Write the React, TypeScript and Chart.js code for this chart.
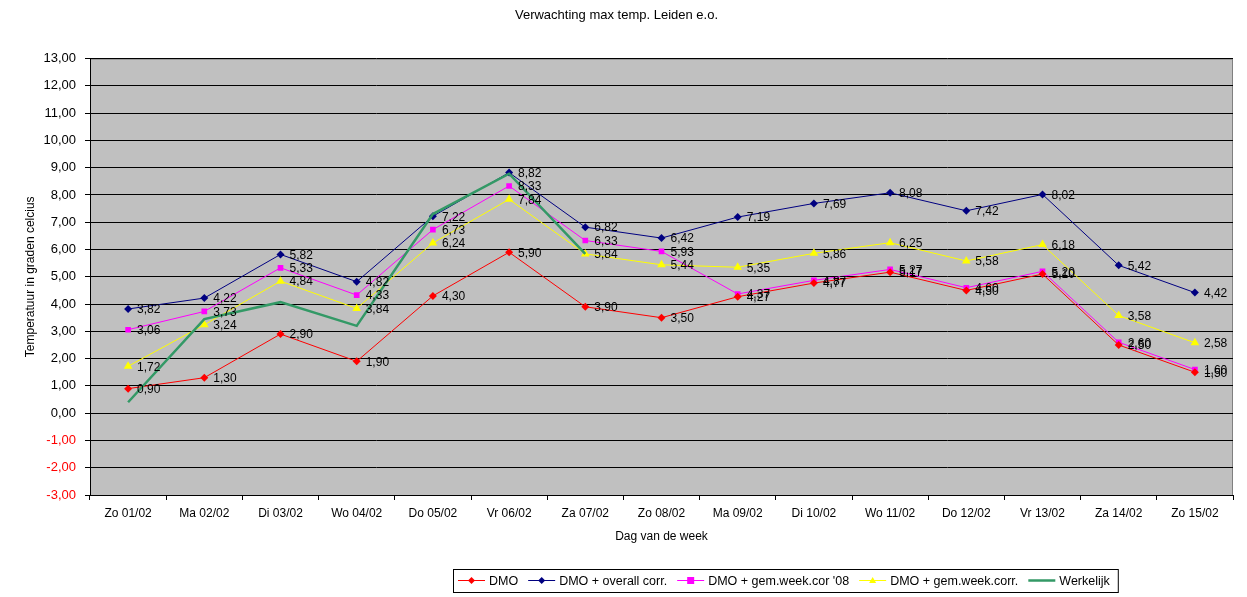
import { useEffect, useRef } from "react";
import { Chart, registerables, Plugin } from "chart.js";

Chart.register(...registerables);

const FONT = "'Liberation Sans', Arial, sans-serif";

const days = [
  "Zo 01/02", "Ma 02/02", "Di 03/02", "Wo 04/02", "Do 05/02",
  "Vr 06/02", "Za 07/02", "Zo 08/02", "Ma 09/02", "Di 10/02",
  "Wo 11/02", "Do 12/02", "Vr 13/02", "Za 14/02", "Zo 15/02",
];

const dmo = [0.9, 1.3, 2.9, 1.9, 4.3, 5.9, 3.9, 3.5, 4.27, 4.77, 5.17, 4.5, 5.1, 2.5, 1.5];
const dmoOverall = [3.82, 4.22, 5.82, 4.82, 7.22, 8.82, 6.82, 6.42, 7.19, 7.69, 8.08, 7.42, 8.02, 5.42, 4.42];
const dmoWeek08 = [3.06, 3.73, 5.33, 4.33, 6.73, 8.33, 6.33, 5.93, 4.37, 4.87, 5.27, 4.6, 5.2, 2.6, 1.6];
const dmoWeek = [1.72, 3.24, 4.84, 3.84, 6.24, 7.84, 5.84, 5.44, 5.35, 5.86, 6.25, 5.58, 6.18, 3.58, 2.58];
const werkelijk = [0.4, 3.45, 4.07, 3.2, 7.3, 8.78, 5.84, null, null, null, null, null, null, null, null];

const yMin = -3;
const yMax = 13;

const fmt = (v: number) => v.toFixed(2).replace(".", ",");

// grey plot area with a light border top/right
const plotBackground: Plugin = {
  id: "plotBackground",
  beforeDraw(chart) {
    const { ctx, chartArea: a } = chart;
    ctx.save();
    ctx.fillStyle = "#fff";
    ctx.fillRect(0, 0, chart.width, chart.height);
    ctx.fillStyle = "#c0c0c0";
    ctx.fillRect(a.left, a.top, a.right - a.left, a.bottom - a.top);
    ctx.strokeStyle = "#808080";
    ctx.lineWidth = 1;
    ctx.beginPath();
    ctx.moveTo(a.left, a.top + 0.5);
    ctx.lineTo(a.right - 0.5, a.top + 0.5);
    ctx.lineTo(a.right - 0.5, a.bottom);
    ctx.stroke();
    ctx.restore();
  },
};

const valueLabels: Plugin = {
  id: "valueLabels",
  afterDatasetsDraw(chart) {
    const ctx = chart.ctx;
    ctx.save();
    ctx.font = `12px ${FONT}`;
    ctx.fillStyle = "#000";
    ctx.textBaseline = "middle";
    chart.data.datasets.forEach((ds: any, i) => {
      if (ds.noLabels) return;
      const meta = chart.getDatasetMeta(i);
      meta.data.forEach((pt, j) => {
        const v = ds.data[j];
        if (v == null) return;
        ctx.fillText(fmt(v), pt.x + 9, pt.y + 1);
      });
    });
    ctx.restore();
  },
};

function drawMarker(ctx: CanvasRenderingContext2D, style: string, x: number, y: number, r: number) {
  ctx.beginPath();
  if (style === "rectRot") {
    ctx.moveTo(x, y - r);
    ctx.lineTo(x + r, y);
    ctx.lineTo(x, y + r);
    ctx.lineTo(x - r, y);
    ctx.closePath();
  } else if (style === "rect") {
    ctx.rect(x - r, y - r, r * 2, r * 2);
  } else if (style === "triangle") {
    ctx.moveTo(x, y - r);
    ctx.lineTo(x + r, y + r * 0.7);
    ctx.lineTo(x - r, y + r * 0.7);
    ctx.closePath();
  } else {
    return;
  }
  ctx.fill();
}

const boxLegend: Plugin = {
  id: "boxLegend",
  afterDraw(chart) {
    const ctx = chart.ctx;
    ctx.save();
    ctx.font = `12.5px ${FONT}`;
    ctx.textBaseline = "middle";
    const left = 453;
    const top = chart.height - 28;
    const h = 23;
    const cy = top + h / 2;
    let x = left + 5;
    chart.data.datasets.forEach((ds: any) => {
      ctx.strokeStyle = ds.borderColor;
      ctx.lineWidth = ds.borderWidth;
      ctx.beginPath();
      ctx.moveTo(x, cy);
      ctx.lineTo(x + 27, cy);
      ctx.stroke();
      ctx.fillStyle = ds.borderColor;
      if (ds.pointRadius > 0) drawMarker(ctx, ds.pointStyle, x + 13.5, cy, 3.5);
      x += 31;
      ctx.fillStyle = "#000";
      ctx.fillText(ds.label, x, cy + 1);
      x += ctx.measureText(ds.label).width + 10;
    });
    ctx.strokeStyle = "#000";
    ctx.lineWidth = 1;
    ctx.strokeRect(left + 0.5, top + 0.5, x - left - 2, h);
    ctx.restore();
  },
};

export default function App() {
  const canvasRef = useRef<HTMLCanvasElement>(null);
  const chartRef = useRef<Chart | null>(null);

  useEffect(() => {
    if (!canvasRef.current) return;
    if (chartRef.current) chartRef.current.destroy();

    const line = (label: string, data: (number | null)[], color: string, pointStyle: string, order: number) => ({
      label,
      data,
      borderColor: color,
      backgroundColor: color,
      borderWidth: 1,
      pointStyle,
      pointRadius: pointStyle === "triangle" ? 5 : 4,
      pointBorderWidth: 0,
      tension: 0,
      order,
    });

    chartRef.current = new Chart(canvasRef.current, {
      type: "line",
      data: {
        labels: days,
        datasets: [
          line("DMO", dmo, "#ff0000", "rectRot", 1),
          line("DMO + overall corr.", dmoOverall, "#000080", "rectRot", 2),
          line("DMO + gem.week.cor '08", dmoWeek08, "#ff00ff", "rect", 3),
          line("DMO + gem.week.corr.", dmoWeek, "#ffff00", "triangle", 4),
          {
            label: "Werkelijk",
            data: werkelijk,
            borderColor: "#339966",
            backgroundColor: "#339966",
            borderWidth: 2.5,
            pointRadius: 0,
            tension: 0,
            spanGaps: false,
            order: 0,
            noLabels: true,
          } as any,
        ],
      },
      options: {
        responsive: true,
        maintainAspectRatio: false,
        animation: false,
        layout: { padding: { left: 0, right: 14, top: 0, bottom: 47 } },
        plugins: {
          legend: { display: false },
          tooltip: { enabled: false },
          title: {
            display: true,
            text: "Verwachting max temp. Leiden e.o.",
            color: "#000",
            font: { family: FONT, size: 13, weight: "normal" },
            padding: { top: 8, bottom: 35 },
          },
        },
        scales: {
          x: {
            offset: true,
            grid: {
              display: true,
              drawOnChartArea: false,
              drawTicks: true,
              tickLength: 5,
              offset: true,
              color: "#000",
            },
            border: { color: "#000" },
            ticks: {
              color: "#000",
              font: { family: FONT, size: 12 },
              padding: 6,
              maxRotation: 0,
              autoSkip: false,
            },
            title: {
              display: true,
              text: "Dag van de week",
              color: "#000",
              font: { family: FONT, size: 12 },
              padding: { top: 4, bottom: 6 },
            },
            afterFit(scale) {
              scale.height = 55;
            },
          },
          y: {
            min: yMin,
            max: yMax,
            grid: {
              color: "#000",
              tickLength: 5,
              drawTicks: true,
            },
            border: { color: "#000" },
            ticks: {
              stepSize: 1,
              padding: 9,
              font: { family: FONT, size: 13 },
              color: (c: any) => (c.tick && c.tick.value < 0 ? "#ff0000" : "#000"),
              callback: (v) => fmt(Number(v)),
            },
            title: {
              display: true,
              text: "Temperatuur in graden celcius",
              color: "#000",
              font: { family: FONT, size: 12 },
              padding: { top: 23, bottom: 0 },
            },
            afterFit(scale) {
              scale.width = 90;
            },
          },
        },
      },
      plugins: [plotBackground, valueLabels, boxLegend],
    });

    return () => {
      if (chartRef.current) {
        chartRef.current.destroy();
        chartRef.current = null;
      }
    };
  }, []);

  return (
    <div style={{ position: "fixed", left: 0, top: 0, width: 1247, height: 597, background: "#fff" }}>
      <canvas ref={canvasRef} />
    </div>
  );
}
